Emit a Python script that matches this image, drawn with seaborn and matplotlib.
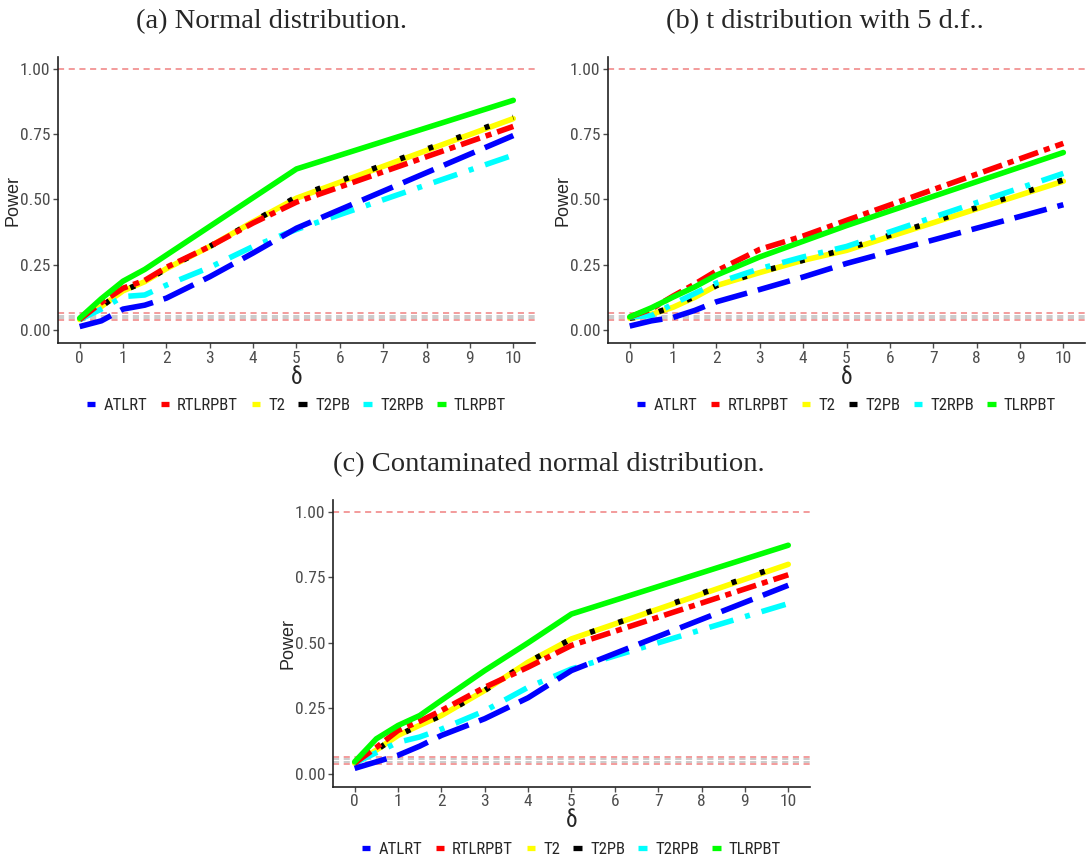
import numpy as np
import pandas as pd
import matplotlib
matplotlib.use("Agg")
import matplotlib.pyplot as plt
from matplotlib.lines import Line2D
from matplotlib import font_manager as fm
import seaborn as sns

# Dados
delta = [0, 0.5, 1, 1.5, 2, 3, 4, 5, 10]
metodos = ["ATLRT", "RTLRPBT", "T2", "T2PB", "T2RPB", "TLRPBT"]
ordem_desenho = ["T2", "T2PB", "T2RPB", "ATLRT", "RTLRPBT", "TLRPBT"]
cores = {"ATLRT": "#0000FF", "RTLRPBT": "#FF0000", "T2": "#FFFF00",
         "T2PB": "#000000", "T2RPB": "#00FFFF", "TLRPBT": "#00FF00"}

# (a) Normal
normal_atlrt = [0.013, 0.035, 0.08, 0.095, 0.122, 0.204, 0.295, 0.39, 0.745]
normal_rtlrpbt = [0.04, 0.105, 0.16, 0.19, 0.24, 0.32, 0.41, 0.49, 0.78]
normal_t2 = [0.04, 0.09, 0.15, 0.185, 0.235, 0.32, 0.415, 0.505, 0.81]
normal_t2pb = [0.04, 0.09, 0.15, 0.185, 0.235, 0.32, 0.415, 0.51, 0.815]
normal_t2rpb = [0.04, 0.08, 0.128, 0.134, 0.172, 0.24, 0.32, 0.385, 0.67]
normal_tlrpbt = [0.045, 0.12, 0.187, 0.232, 0.287, 0.397, 0.507, 0.617, 0.88]

# (b) t com 5 g.l.
t5_atlrt = [0.015, 0.035, 0.048, 0.075, 0.108, 0.155, 0.203, 0.255, 0.48]
t5_rtlrpbt = [0.05, 0.08, 0.13, 0.176, 0.226, 0.309, 0.36, 0.42, 0.715]
t5_t2 = [0.045, 0.06, 0.087, 0.125, 0.17, 0.22, 0.267, 0.305, 0.57]
t5_t2pb = [0.045, 0.06, 0.09, 0.128, 0.17, 0.222, 0.267, 0.31, 0.575]
t5_t2rpb = [0.05, 0.055, 0.1, 0.14, 0.18, 0.235, 0.28, 0.32, 0.60]
t5_tlrpbt = [0.05, 0.085, 0.126, 0.165, 0.21, 0.28, 0.34, 0.40, 0.68]

# (c) Normal contaminada
cont_atlrt = [0.02, 0.045, 0.07, 0.105, 0.146, 0.21, 0.29, 0.394, 0.72]
cont_rtlrpbt = [0.04, 0.10, 0.165, 0.2, 0.241, 0.33, 0.407, 0.49, 0.76]
cont_t2 = [0.04, 0.09, 0.146, 0.185, 0.222, 0.318, 0.426, 0.515, 0.80]
cont_t2pb = [0.04, 0.09, 0.146, 0.185, 0.222, 0.318, 0.426, 0.515, 0.805]
cont_t2rpb = [0.04, 0.08, 0.12, 0.14, 0.17, 0.24, 0.33, 0.40, 0.65]
cont_tlrpbt = [0.045, 0.133, 0.184, 0.222, 0.28, 0.394, 0.50, 0.61, 0.873]

paineis = [
    ("(a) Normal distribution.", [normal_atlrt, normal_rtlrpbt, normal_t2, normal_t2pb, normal_t2rpb, normal_tlrpbt]),
    ("(b) t distribution with 5 d.f..", [t5_atlrt, t5_rtlrpbt, t5_t2, t5_t2pb, t5_t2rpb, t5_tlrpbt]),
    ("(c) Contaminated normal distribution.", [cont_atlrt, cont_rtlrpbt, cont_t2, cont_t2pb, cont_t2rpb, cont_tlrpbt]),
]

tracos = {"ATLRT": (6, 2), "RTLRPBT": (3.6, 1.1, 1.1, 1.1), "T2": "",
          "T2PB": (0.9, 4.5), "T2RPB": (4.5, 2.2, 0.9, 2.2), "TLRPBT": ""}


# procurar uma fonte estreita (Narrow / Condensed)
def achar_fonte_estreita():
    melhores = []
    for f in fm.fontManager.ttflist:
        nome = (f.name + " " + f.fname).lower()
        estreita = ("narrow" in nome or "condensed" in nome
                    or str(f.stretch) in ("condensed", "semi-condensed"))
        if not estreita:
            continue
        if "extra" in nome or "ultra" in nome or "semi" in nome:
            continue
        if f.style != "normal" or f.weight not in (400, "normal", "regular"):
            continue
        if "mono" in nome or "serif" in f.name.lower():
            continue
        pontos = 0
        if "liberation sans narrow" in nome or "arial narrow" in nome:
            pontos = 3
        elif "roboto" in nome:
            pontos = 2
        elif "noto sans" in nome or "open sans" in nome:
            pontos = 1
        melhores.append((pontos, f.fname))
    if melhores:
        melhores.sort(reverse=True)
        return melhores[0][1]
    return None


fonte_estreita = achar_fonte_estreita()
if fonte_estreita:
    fp_tick = fm.FontProperties(fname=fonte_estreita, size=12.5)
    fp_leg = fm.FontProperties(fname=fonte_estreita, size=12)
    fp_delta = fm.FontProperties(fname=fonte_estreita, size=17)
else:
    fp_tick = fm.FontProperties(family="Liberation Sans", size=11)
    fp_leg = fm.FontProperties(family="Liberation Sans", size=10.5)
    fp_delta = fm.FontProperties(family="DejaVu Sans", size=14)

sns.set_theme(style="ticks")
plt.rcParams["font.family"] = ["Liberation Sans", "DejaVu Sans"]

fig = plt.figure(figsize=(10.86, 8.61), dpi=100)
posicoes = [[0.0534, 0.6016, 0.4392, 0.3322],
            [0.5599, 0.6016, 0.4392, 0.3322],
            [0.3066, 0.0863, 0.4392, 0.333]]
centros_titulo = [(0.250, 0.975), (0.760, 0.975), (0.505, 0.46)]

for (titulo, series), pos, ct in zip(paineis, posicoes, centros_titulo):
    ax = fig.add_axes(pos)
    df = pd.DataFrame({
        "delta": np.tile(delta, len(metodos)),
        "Power": np.concatenate(series),
        "metodo": np.repeat(metodos, len(delta)),
    })
    for y, c in [(1.0, "#f08080"), (0.0365, "#f08080"), (0.0635, "#f08080"),
                 (0.045, "#bdbdbd"), (0.055, "#bdbdbd")]:
        ax.axhline(y, color=c, ls=(0, (4, 3)), lw=1.1, zorder=1)
    sns.lineplot(data=df, x="delta", y="Power", hue="metodo", style="metodo",
                 hue_order=ordem_desenho, style_order=ordem_desenho, palette=cores,
                 dashes=tracos, linewidth=4, legend=False, ax=ax, zorder=3)
    ax.set_xlim(-0.5, 10.5)
    ax.set_ylim(-0.05, 1.046)
    ax.set_xticks(range(0, 11))
    ax.set_yticks([0, 0.25, 0.5, 0.75, 1.0])
    ax.set_yticklabels(["0.00", "0.25", "0.50", "0.75", "1.00"])
    ax.tick_params(colors="#4d4d4d", length=3.5, width=1, direction="out", pad=2)
    for lbl in ax.get_xticklabels() + ax.get_yticklabels():
        lbl.set_fontproperties(fp_tick)
    ax.set_xlabel("δ", fontproperties=fp_delta, labelpad=0)
    ax.set_ylabel("Power", fontsize=13)
    ax.yaxis.set_label_coords(-0.076, 0.5)
    sns.despine(ax=ax)
    for s in ["left", "bottom"]:
        ax.spines[s].set_color("#222222")
        ax.spines[s].set_linewidth(1.2)
    ax.grid(False)

    handles = [Line2D([0], [0], color=cores[m], lw=3.8, solid_capstyle="butt") for m in metodos]
    ax.legend(handles, metodos, loc="upper center", bbox_to_anchor=(0.5, -0.14),
              ncol=6, frameon=False, prop=fp_leg, handlelength=0.5,
              handletextpad=0.5, columnspacing=0.8)

    fig.text(ct[0], ct[1], titulo, ha="center", va="center", fontsize=20.5,
             family=["Liberation Serif", "DejaVu Serif"])

fig.savefig("out.png", dpi=100, facecolor="white")
